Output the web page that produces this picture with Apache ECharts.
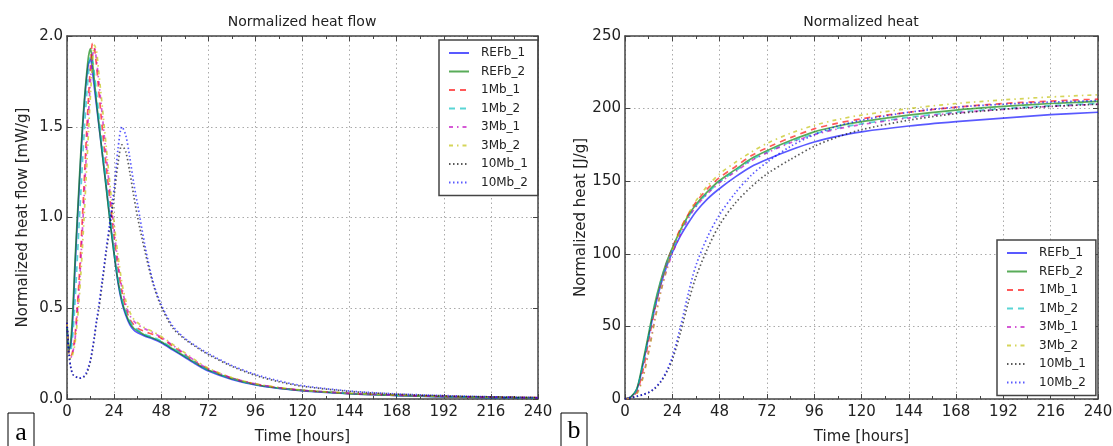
<!DOCTYPE html>
<html>
<head>
<meta charset="UTF-8">
<title>Normalized heat flow / heat</title>
<script src="https://cdn.jsdelivr.net/npm/echarts@6/dist/echarts.min.js"></script>
<style>
  html, body { margin: 0; padding: 0; background: #fff; }
  #main { width: 1113px; height: 446px; }
</style>
</head>
<body>
<div id="main"></div>
<script type="text/javascript">
// ---- data ----
var seriesNames = ['REFb_1', 'REFb_2', '1Mb_1', '1Mb_2', '3Mb_1', '3Mb_2', '10Mb_1', '10Mb_2'];

// left chart: heat flow [mW/g]
var flowTime = [0,1,2,3,4,5,6,7,8,9,10,11,12,13,14,15,16,18,20,22,24,26,28,30,32,34,36,40,44,48,54,60,66,72,84,96,108,120,144,168,192,216,240];
var flow_REFb_1 = [0.42,0.27,0.30,0.45,0.70,0.92,1.12,1.32,1.50,1.65,1.77,1.85,1.87,1.80,1.71,1.62,1.53,1.35,1.17,0.98,0.80,0.64,0.53,0.46,0.41,0.38,0.365,0.345,0.33,0.31,0.27,0.23,0.19,0.155,0.108,0.077,0.058,0.045,0.029,0.019,0.012,0.008,0.005];
var flow_REFb_2 = [0.42,0.27,0.33,0.50,0.74,0.95,1.15,1.35,1.52,1.67,1.79,1.89,1.93,1.85,1.75,1.64,1.54,1.35,1.16,0.97,0.80,0.65,0.54,0.47,0.42,0.39,0.375,0.35,0.335,0.315,0.275,0.235,0.195,0.16,0.112,0.08,0.06,0.047,0.03,0.02,0.013,0.009,0.006];
var flow_1Mb_1 = [0.42,0.25,0.24,0.27,0.34,0.47,0.63,0.82,1.03,1.25,1.47,1.67,1.84,1.96,1.93,1.84,1.72,1.49,1.28,1.08,0.89,0.72,0.59,0.50,0.44,0.41,0.39,0.37,0.355,0.335,0.29,0.245,0.20,0.165,0.115,0.082,0.062,0.048,0.031,0.021,0.014,0.010,0.007];
var flow_1Mb_2 = [0.42,0.26,0.27,0.36,0.52,0.72,0.93,1.13,1.33,1.51,1.67,1.80,1.89,1.87,1.79,1.69,1.59,1.39,1.20,1.01,0.83,0.67,0.55,0.48,0.43,0.40,0.38,0.355,0.34,0.32,0.28,0.24,0.197,0.16,0.112,0.08,0.06,0.047,0.03,0.02,0.013,0.009,0.006];
var flow_3Mb_1 = [0.42,0.25,0.23,0.26,0.32,0.44,0.58,0.76,0.96,1.17,1.38,1.58,1.76,1.89,1.93,1.87,1.77,1.56,1.34,1.13,0.93,0.75,0.61,0.52,0.46,0.43,0.41,0.385,0.365,0.34,0.295,0.25,0.205,0.167,0.116,0.083,0.062,0.048,0.031,0.021,0.014,0.010,0.007];
var flow_3Mb_2 = [0.42,0.25,0.22,0.25,0.30,0.40,0.52,0.68,0.86,1.06,1.27,1.48,1.68,1.85,1.95,1.92,1.82,1.61,1.39,1.17,0.97,0.79,0.64,0.54,0.48,0.44,0.42,0.39,0.37,0.345,0.30,0.255,0.21,0.17,0.118,0.084,0.063,0.049,0.032,0.022,0.015,0.010,0.007];
var flow_10Mb_1 = [0.42,0.25,0.17,0.135,0.125,0.12,0.115,0.115,0.12,0.125,0.14,0.17,0.21,0.27,0.34,0.42,0.48,0.64,0.81,0.96,1.12,1.30,1.40,1.36,1.25,1.12,1.00,0.80,0.63,0.51,0.39,0.33,0.285,0.245,0.18,0.13,0.095,0.07,0.042,0.027,0.018,0.012,0.008];
var flow_10Mb_2 = [0.42,0.25,0.17,0.135,0.125,0.12,0.115,0.115,0.12,0.13,0.15,0.18,0.22,0.28,0.35,0.43,0.50,0.66,0.83,0.99,1.16,1.38,1.50,1.45,1.33,1.19,1.07,0.83,0.64,0.52,0.40,0.335,0.29,0.25,0.185,0.135,0.10,0.073,0.044,0.028,0.019,0.012,0.008];

// right chart: cumulative heat [J/g]
var heatTime = [0,3,6,9,12,15,18,21,24,28,32,36,42,48,56,64,72,84,96,108,120,144,168,192,216,240];
var heat_REFb_1 = [0,1.5,6.5,23,43,62,78,91,101,112,121,129,138,145,153,160,165,171.5,177,181,184,188,191,193.5,195.8,197.5];
var heat_REFb_2 = [0,1.5,7,25,45,65,81,94,104,116,126,134,143,150.5,158,165.5,171,178,184,188,191,195.5,199,201.5,203.5,205];
var heat_1Mb_1 = [0,1,5,19,40,61,79,93,104,117,127,135.5,145,152.5,160,167.5,173,180,186,190,193,197.5,201,203.5,205.2,206.5];
var heat_1Mb_2 = [0,1.3,6.5,23,43,63,80,93,103,115,125,133,142,149.5,157,164.5,170,177,182.5,186.5,189.5,194,197.5,200,202,203.5];
var heat_3Mb_1 = [0,0.8,4,15,33,54,73,88,100,113,124,132.5,141.5,149,156.5,164,169.5,176.5,182,186,189,193.5,197,199.5,201.5,203];
var heat_3Mb_2 = [0,0.7,3.5,14,32,53,73,89,102,116,127,136.5,147,155,163,170,176,183,188.5,192.5,195.5,200,203.5,206,208,209.5];
var heat_10Mb_1 = [0,0.8,1.8,3,4.5,7,11.5,18,27,45,66,84,104,120,135,146,155,165,174,180.5,185.5,192,196.5,199.5,201.5,203];
var heat_10Mb_2 = [0,0.8,1.8,3,4.5,7.5,12,19,29,49,72,92,112,127,142,154,163,174,182,188,192,197.5,201,203,204.5,205.5];

// ---- styles (matplotlib-like) ----
var colors = ['#0000ff', '#008000', '#ff0000', '#00bfbf', '#bf00bf', '#bfbf00', '#000000', '#0000ff'];
var dashes = ['solid', 'solid', [6, 5], [6, 5], [4, 4, 1.5, 4], [4, 4, 1.5, 4], [1.5, 2.5], [1.5, 2.5]];
var FONT = 'DejaVu Sans';
var AXIS_COLOR = '#444';

var flowSets = [flow_REFb_1, flow_REFb_2, flow_1Mb_1, flow_1Mb_2, flow_3Mb_1, flow_3Mb_2, flow_10Mb_1, flow_10Mb_2];
var heatSets = [heat_REFb_1, heat_REFb_2, heat_1Mb_1, heat_1Mb_2, heat_3Mb_1, heat_3Mb_2, heat_10Mb_1, heat_10Mb_2];

function pairs(xs, ys) {
	return xs.map(function(x, i) { return [x, ys[i]]; });
}

function makeSeries(name, i, xs, ys, axisIdx) {
	return {
		name: name,
		type: 'line',
		xAxisIndex: axisIdx,
		yAxisIndex: axisIdx,
		data: pairs(xs, ys),
		symbol: 'none',
		smooth: 0.3,
		animation: false,
		color: colors[i],
		lineStyle: { color: colors[i], width: 1.7, type: dashes[i], opacity: 0.65 }
	};
}

function xAxisCfg(grid, top) {
	return {
		type: 'value', gridIndex: grid, position: top ? 'top' : 'bottom',
		min: 0, max: 240, interval: 24,
		name: top ? '' : 'Time [hours]',
		nameLocation: 'middle', nameGap: 31,
		nameTextStyle: { fontFamily: FONT, fontSize: 15, color: '#222' },
		axisLine: { show: true, onZero: false, lineStyle: { color: AXIS_COLOR, width: 1.5 } },
		axisTick: { show: true, inside: true, length: 5, lineStyle: { color: AXIS_COLOR } },
		minorTick: { show: true, splitNumber: 2, length: 3, lineStyle: { color: AXIS_COLOR } },
		axisLabel: { show: !top, margin: 6, fontFamily: FONT, fontSize: 15, color: '#222' },
		splitLine: { show: !top, lineStyle: { color: '#aaa', type: [1.5, 3], width: 1 } }
	};
}

function yAxisCfg(grid, right, max, interval, name, digits) {
	return {
		type: 'value', gridIndex: grid, position: right ? 'right' : 'left',
		min: 0, max: max, interval: interval,
		name: right ? '' : name,
		nameLocation: 'middle', nameGap: 36,
		nameTextStyle: { fontFamily: FONT, fontSize: 15, color: '#222' },
		axisLine: { show: true, onZero: false, lineStyle: { color: AXIS_COLOR, width: 1.5 } },
		axisTick: { show: true, inside: true, length: 5, lineStyle: { color: AXIS_COLOR } },
		axisLabel: {
			show: !right, margin: 4, fontFamily: FONT, fontSize: 15, color: '#222',
			formatter: function(v) { return v.toFixed(digits); }
		},
		splitLine: { show: !right, lineStyle: { color: '#aaa', type: [1.5, 3], width: 1 } }
	};
}

function legendCfg(left, top) {
	return {
		orient: 'vertical', left: left, top: top,
		data: seriesNames,
		itemWidth: 20, itemHeight: 12, itemGap: 6.5,
		padding: [7, 10, 7, 9],
		borderColor: '#444', borderWidth: 1.5, borderRadius: 0,
		backgroundColor: '#fff',
		itemStyle: { opacity: 0 },
		textStyle: { fontFamily: FONT, fontSize: 12, color: '#222', padding: [0, 0, 0, 7] },
		selectedMode: false
	};
}

var series = [];
seriesNames.forEach(function(n, i) { series.push(makeSeries(n, i, flowTime, flowSets[i], 0)); });
seriesNames.forEach(function(n, i) { series.push(makeSeries(n, i, heatTime, heatSets[i], 2)); });

var myChart = echarts.init(document.getElementById('main'));

var option = {
	backgroundColor: '#fff',
	animation: false,
	grid: [
		{ left: 67, right: 575, top: 36, bottom: 47, outerBoundsMode: 'none', containLabel: false },
		{ left: 625, right: 15, top: 36, bottom: 47, outerBoundsMode: 'none', containLabel: false }
	],
	xAxis: [xAxisCfg(0, false), xAxisCfg(0, true), xAxisCfg(1, false), xAxisCfg(1, true)],
	yAxis: [
		yAxisCfg(0, false, 2, 0.5, 'Normalized heat flow [mW/g]', 1),
		yAxisCfg(0, true, 2, 0.5, '', 1),
		yAxisCfg(1, false, 250, 50, 'Normalized heat [J/g]', 0),
		yAxisCfg(1, true, 250, 50, '', 0)
	],
	legend: [legendCfg(439, 40), legendCfg(997, 240)],
	graphic: [
		{ type: 'text', x: 302, y: 22, style: { text: 'Normalized heat flow', x: 0, y: 0, align: 'center', verticalAlign: 'middle', fontFamily: FONT, fontSize: 14, fill: '#222' } },
		{ type: 'text', x: 861, y: 22, style: { text: 'Normalized heat', x: 0, y: 0, align: 'center', verticalAlign: 'middle', fontFamily: FONT, fontSize: 14, fill: '#222' } },
		{ type: 'rect', shape: { x: 8, y: 413, width: 26, height: 40 }, style: { fill: '#fff', stroke: '#000', lineWidth: 1 } },
		{ type: 'text', x: 21, y: 433, style: { text: 'a', x: 0, y: 0, align: 'center', verticalAlign: 'middle', fontFamily: 'Liberation Serif', fontSize: 26, fill: '#000' } },
		{ type: 'rect', shape: { x: 561, y: 413, width: 26, height: 40 }, style: { fill: '#fff', stroke: '#000', lineWidth: 1 } },
		{ type: 'text', x: 574, y: 431, style: { text: 'b', x: 0, y: 0, align: 'center', verticalAlign: 'middle', fontFamily: 'Liberation Serif', fontSize: 26, fill: '#000' } }
	],
	series: series
};
myChart.setOption(option);
</script>
</body>
</html>
